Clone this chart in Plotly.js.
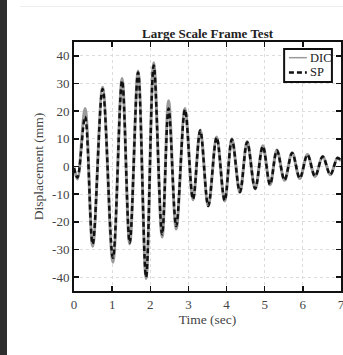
<!DOCTYPE html>
<html>
<head>
<meta charset="utf-8">
<script src="https://cdn.plot.ly/plotly-3.0.1.min.js"></script>
<style>
  html, body { margin: 0; padding: 0; background: #ffffff; }
  #strip { position: absolute; left: 0; top: 0; width: 7px; height: 355px; background: #2e2e2e; z-index: 0; }
  #topline { position: absolute; left: 20px; top: 6px; width: 323px; height: 1px; background: #eeeeee; z-index: 0; }
  #chart { position: absolute; left: 0; top: 0; width: 343px; height: 355px; z-index: 1; }
</style>
</head>
<body>
<div id="strip"></div>
<div id="topline"></div>
<div id="chart"></div>
<script>
// Time (sec) at the read-off extremes of the response
const time = [0, 0.09, 0.29, 0.49, 0.75, 1.02, 1.26, 1.46, 1.68, 1.89, 2.09, 2.31, 2.48, 2.68, 2.91, 3.12, 3.31, 3.52, 3.74, 3.95, 4.14, 4.35, 4.54, 4.75, 4.95, 5.14, 5.32, 5.52, 5.72, 5.92, 6.12, 6.32, 6.52, 6.72, 6.91, 7.0];
// Displacement (mm), DIC measurement
const dicDisp = [-0.5, -4.5, 21, -28.8, 28.6, -34.6, 31.8, -28, 34.5, -40.5, 37.5, -25.5, 23.8, -22.6, 21, -12, 13.2, -14.4, 10.7, -12.5, 10, -9.4, 9, -8.1, 7.5, -6.6, 6, -5, 5, -4.3, 4.3, -3.6, 3.7, -3, 3.2, 2];
// Displacement (mm), string potentiometer
const spDisp = [-0.5, -4, 18, -28, 28, -33, 31, -27.5, 34, -40, 36.5, -24.5, 21, -21.5, 20.5, -11.8, 13, -14.2, 10.5, -12.3, 9.8, -9.2, 8.8, -8, 7.3, -6.5, 5.8, -4.9, 4.9, -4.2, 4.2, -3.5, 3.6, -2.9, 3.1, 2];
const xTicks = [0, 1, 2, 3, 4, 5, 6, 7];
const yTicks = [-40, -30, -20, -10, 0, 10, 20, 30, 40];
const seriesNames = ['DIC', 'SP'];

const serif = 'Liberation Serif, Times New Roman, serif';
const dicStyle = { color: '#9a9a9a', width: 3 };
const spStyle = { color: '#111111', width: 2.5, dash: '5px,3px' };

const traces = [
  {
    x: time, y: dicDisp, name: seriesNames[0], type: 'scatter', mode: 'lines', showlegend: false,
    line: Object.assign({ shape: 'spline', smoothing: 1 }, dicStyle)
  },
  {
    x: time, y: spDisp, name: seriesNames[1], type: 'scatter', mode: 'lines', showlegend: false,
    line: Object.assign({ shape: 'spline', smoothing: 1 }, spStyle)
  }
];

const axisCommon = {
  showline: true, linecolor: '#111', linewidth: 2, mirror: 'ticks',
  ticks: 'inside', ticklen: 5, tickwidth: 1.5, tickcolor: '#111',
  showgrid: true, gridcolor: '#dcdcdc', gridwidth: 1, griddash: 'dot',
  zeroline: false,
  tickfont: { family: serif, size: 13, color: '#444' },
  ticklabeloverflow: 'allow',
  automargin: false
};

// legend box (paper coordinates), drawn as shapes + text
const lgX0 = 0.787, lgX1 = 0.966, lgY0 = 0.839, lgY1 = 0.972;
const lgLineX0 = 0.805, lgLineX1 = 0.872, lgTextX = 0.878;
const lgRowY = [0.937, 0.878];

const layout = {
  width: 343, height: 355,
  margin: { l: 74, r: 2, t: 42, b: 64 },
  paper_bgcolor: 'rgba(0,0,0,0)',
  plot_bgcolor: '#ffffff',
  font: { family: serif, color: '#222' },
  title: {
    text: '<b>Large Scale Frame Test</b>',
    font: { family: serif, size: 13, color: '#222' },
    x: 0.5, xref: 'paper', xanchor: 'center',
    y: 1 - 33 / 355, yref: 'container', yanchor: 'middle'
  },
  xaxis: Object.assign({}, axisCommon, {
    range: [0, 7], tickvals: xTicks, ticktext: xTicks.map(String),
    title: { text: 'Time (sec)', font: { family: serif, size: 13.5, color: '#444' }, standoff: 2 }
  }),
  yaxis: Object.assign({}, axisCommon, {
    range: [-45, 45], tickvals: yTicks, ticktext: yTicks.map(String),
    title: { text: 'Displacement (mm)', font: { family: serif, size: 13.5, color: '#444' }, standoff: 5 }
  }),
  showlegend: false,
  shapes: [
    { type: 'rect', xref: 'paper', yref: 'paper', x0: lgX0, x1: lgX1, y0: lgY0, y1: lgY1,
      fillcolor: '#ffffff', line: { color: '#111', width: 2 } },
    { type: 'line', xref: 'paper', yref: 'paper', x0: lgLineX0, x1: lgLineX1, y0: lgRowY[0], y1: lgRowY[0],
      line: { color: dicStyle.color, width: 1.5 } },
    { type: 'line', xref: 'paper', yref: 'paper', x0: lgLineX0, x1: lgLineX1, y0: lgRowY[1], y1: lgRowY[1],
      line: { color: spStyle.color, width: 2.5, dash: '5px,3px' } }
  ],
  annotations: seriesNames.map((n, i) => ({
    text: n, xref: 'paper', yref: 'paper', x: lgTextX, y: lgRowY[i],
    xanchor: 'left', yanchor: 'middle', showarrow: false,
    font: { family: serif, size: 12.5, color: '#222' }
  }))
};

Plotly.newPlot('chart', traces, layout, { staticPlot: true, displayModeBar: false });
</script>
</body>
</html>
